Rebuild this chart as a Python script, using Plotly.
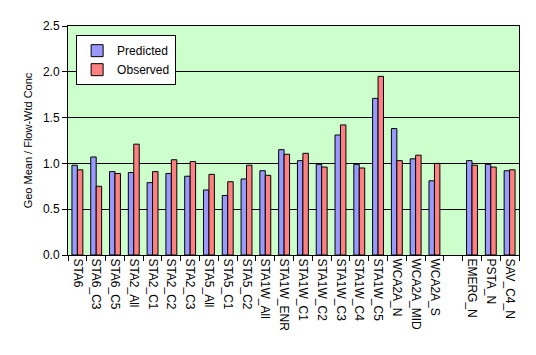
import plotly.graph_objects as go

categories = ["STA6", "STA6_C3", "STA6_C5", "STA2_All", "STA2_C1", "STA2_C2", "STA2_C3",
              "STA5_All", "STA5_C1", "STA5_C2", "STA1W_All", "STA1W_ENR", "STA1W_C1",
              "STA1W_C2", "STA1W_C3", "STA1W_C4", "STA1W_C5", "WCA2A_N", "WCA2A_MID",
              "WCA2A_S", " ", "EMERG_N", "PSTA_N", "SAV_C4_N"]
predicted = [0.98, 1.07, 0.91, 0.90, 0.79, 0.89, 0.86, 0.71, 0.65, 0.83, 0.92, 1.15, 1.03,
             0.99, 1.31, 0.99, 1.71, 1.38, 1.05, 0.81, None, 1.03, 0.99, 0.92]
observed = [0.93, 0.75, 0.89, 1.21, 0.91, 1.04, 1.02, 0.88, 0.80, 0.98, 0.87, 1.10, 1.11,
            0.96, 1.42, 0.95, 1.95, 1.03, 1.09, 1.00, None, 0.98, 0.96, 0.93]
y_ticks = [0.0, 0.5, 1.0, 1.5, 2.0, 2.5]

font = "Liberation Sans, Arial, sans-serif"

fig = go.Figure()
fig.add_trace(go.Bar(name="Predicted", x=categories, y=predicted,
                     marker=dict(color="#9999FF", line=dict(color="black", width=1))))
fig.add_trace(go.Bar(name="Observed", x=categories, y=observed,
                     marker=dict(color="#FF8080", line=dict(color="black", width=1))))

fig.update_layout(
    width=536, height=355,
    margin=dict(l=60, r=25, t=18, b=108),
    paper_bgcolor="white", plot_bgcolor="#CCFFCC",
    barmode="group", bargap=0.42, bargroupgap=0,
    font=dict(family=font, size=12, color="black"),
    legend=dict(x=0.018, y=0.96, xanchor="left", yanchor="top",
                bgcolor="white", bordercolor="black", borderwidth=1,
                font=dict(size=12), tracegroupgap=2, itemwidth=30),
    showlegend=True,
)
fig.update_xaxes(
    type="category", categoryorder="array", categoryarray=categories,
    tickangle=90, ticks="outside", ticklen=5, tickcolor="black",
    tickson="boundaries", showline=True, linecolor="black", linewidth=1,
    mirror=True, showgrid=False, tickfont=dict(size=12),
)
fig.update_yaxes(
    range=[0, 2.5], tickvals=y_ticks, tickformat=".1f",
    ticks="outside", ticklen=5, tickcolor="black",
    showline=True, linecolor="black", linewidth=1, mirror=True,
    showgrid=True, gridcolor="black", gridwidth=1, zeroline=False,
    title=dict(text="Geo Mean / Flow-Wtd Conc", font=dict(size=11), standoff=8),
    tickfont=dict(size=12),
)

fig.write_html("out.html")
